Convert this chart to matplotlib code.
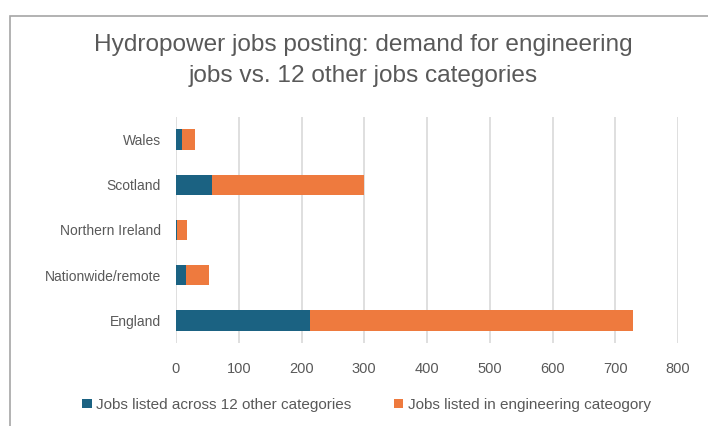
import matplotlib.pyplot as plt
from matplotlib.patches import Rectangle

plt.rcParams['font.family'] = ['Liberation Sans', 'DejaVu Sans']

regions = ['England', 'Nationwide/remote', 'Northern Ireland', 'Scotland', 'Wales']
other_jobs = [214, 16, 2, 57, 10]
engineering_jobs = [514, 37, 15, 242, 20]
x_ticks = [0, 100, 200, 300, 400, 500, 600, 700, 800]

blue = '#1b6282'
orange = '#ee7a3e'
grey = '#595959'

fig = plt.figure(figsize=(7.08, 4.26), dpi=100)
ax = fig.add_axes([176 / 708, 1 - 343 / 426, 502 / 708, 226 / 426])

ax.barh(regions, other_jobs, height=0.45, color=blue,
        label='Jobs listed across 12 other categories')
ax.barh(regions, engineering_jobs, left=other_jobs, height=0.45, color=orange,
        label='Jobs listed in engineering cateogory')

ax.set_xlim(0, 800)
ax.set_ylim(-0.5, len(regions) - 0.5)
ax.set_xticks(x_ticks)
ax.grid(axis='x', color='#d9d9d9', linewidth=1.2)
ax.set_axisbelow(True)
for s in ax.spines.values():
    s.set_visible(False)
ax.tick_params(axis='both', length=0, labelsize=10.5, labelcolor=grey)
ax.tick_params(axis='y', labelsize=10)
ax.tick_params(axis='x', pad=14)
ax.tick_params(axis='y', pad=11)

fig.text(0.513, 1 - 45 / 426, 'Hydropower jobs posting: demand for engineering',
         ha='center', va='center', fontsize=17.6, color=grey)
fig.text(0.513, 1 - 76 / 426, 'jobs vs. 12 other jobs categories',
         ha='center', va='center', fontsize=17.6, color=grey)

fig.legend(loc='center', bbox_to_anchor=(0.518, 1 - 405 / 426), ncol=2,
           frameon=False, fontsize=11, labelcolor=grey,
           handlelength=0.6, handleheight=0.6, columnspacing=2.8, handletextpad=0.3)

fig.patches.append(Rectangle((10 / 708, -0.1), 1.2, 1 - 16 / 426 + 0.1,
                             transform=fig.transFigure, fill=False,
                             edgecolor='#a6a6a6', linewidth=1.2))

fig.savefig('out.png', dpi=100)
